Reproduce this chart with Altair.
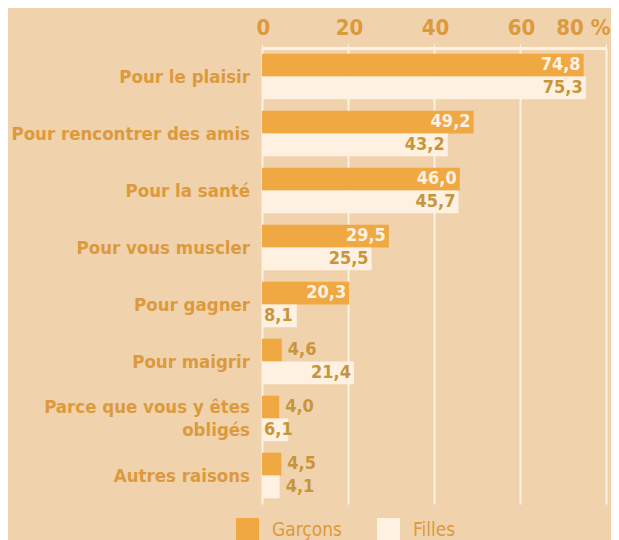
import altair as alt
import pandas as pd

categories = ["Pour le plaisir", "Pour rencontrer des amis", "Pour la santé",
              "Pour vous muscler", "Pour gagner", "Pour maigrir",
              "Parce que vous y êtes obligés", "Autres raisons"]
cat_lines = ["Pour le plaisir", "Pour rencontrer des amis", "Pour la santé",
             "Pour vous muscler", "Pour gagner", "Pour maigrir",
             "Parce que vous y êtes\nobligés", "Autres raisons"]
garcons = [74.8, 49.2, 46.0, 29.5, 20.3, 4.6, 4.0, 4.5]
filles = [75.3, 43.2, 45.7, 25.5, 8.1, 21.4, 6.1, 4.1]
groups = ["Garçons", "Filles"]
ticks = [0, 20, 40, 60, 80]

rows = []
for c, g, f in zip(categories, garcons, filles):
    rows.append({"cat": c, "sexe": "Garçons", "val": g})
    rows.append({"cat": c, "sexe": "Filles", "val": f})
df = pd.DataFrame(rows)
cat_df = pd.DataFrame({"cat": categories, "txt": cat_lines,
                       "multi": ["\n" in t for t in cat_lines]})

BG = "#f0d2ad"
GOLD = "#dc9a3c"
DARK = "#c8963a"
CREAM = "#fef1e2"
ORANGE = "#f0a843"
FONT = "DejaVu Sans Condensed, DejaVu Sans"

ysc = alt.Scale(domain=categories, paddingInner=0.2, paddingOuter=0.1)
yenc = alt.Y("cat:N", scale=ysc, sort=categories, axis=None)
xenc = alt.X("val:Q", scale=alt.Scale(domain=[0, 80], nice=False),
             axis=alt.Axis(title=None, orient="top", values=ticks,
                           labelExpr="datum.value == 80 ? '80 %' : datum.label",
                           labelFlush=False,
                           labelAlign={"condition": {"test": "datum.value == 80", "value": "right"}, "value": "center"},
                           labelOffset={"condition": {"test": "datum.value == 80", "value": 4}, "value": 1},
                           labelFontSize=22, labelFontWeight="bold", labelColor=GOLD,
                           labelFont=FONT, labelPadding=5, ticks=True, tickColor=CREAM,
                           tickSize=4, domainColor=CREAM, domainWidth=3,
                           grid=True, gridColor=CREAM, gridWidth=2))
yoff = alt.YOffset("sexe:N", sort=groups, scale=alt.Scale(domain=groups, paddingInner=0, paddingOuter=0))

base = alt.Chart(df).transform_calculate(
    lab="replace(format(datum.val, '.1f'), '.', ',')"
)

bars = base.mark_bar().encode(
    x=xenc,
    y=yenc,
    yOffset=yoff,
    color=alt.Color("sexe:N", sort=groups,
                    scale=alt.Scale(domain=groups, range=[ORANGE, CREAM]),
                    legend=alt.Legend(title=None, orient="none", direction="horizontal",
                                      legendX=-26, legendY=470, symbolType="square",
                                      symbolSize=529, symbolStrokeWidth=0,
                                      labelFontSize=19, labelColor=GOLD, labelFont=FONT,
                                      labelFontWeight="normal",
                                      labelOffset=13, columnPadding=35)),
)

ycat = alt.Y("cat:N", sort=categories)
VFS = 18

inside_g = base.transform_filter("datum.sexe == 'Garçons' && datum.val >= 10").mark_text(
    align="right", baseline="middle", dx=-3, fontSize=VFS, fontWeight="bold",
    font=FONT, color=CREAM).encode(x="val:Q", y=ycat, yOffset=yoff, text="lab:N")
inside_f = base.transform_filter("datum.sexe == 'Filles' && datum.val >= 10").mark_text(
    align="right", baseline="middle", dx=-3, fontSize=VFS, fontWeight="bold",
    font=FONT, color=DARK).encode(x="val:Q", y=ycat, yOffset=yoff, text="lab:N")
small_f = base.transform_filter("datum.sexe == 'Filles' && datum.val >= 5 && datum.val < 10").mark_text(
    align="left", baseline="middle", dx=2, fontSize=VFS, fontWeight="bold",
    font=FONT, color=DARK).encode(x=alt.datum(0), y=ycat, yOffset=yoff, text="lab:N")
outside = base.transform_filter("(datum.sexe == 'Garçons' && datum.val < 10) || (datum.sexe == 'Filles' && datum.val < 5)").mark_text(
    align="left", baseline="middle", dx=6, fontSize=VFS, fontWeight="bold",
    font=FONT, color=DARK).encode(x="val:Q", y=ycat, yOffset=yoff, text="lab:N")

cat_single = alt.Chart(cat_df).transform_filter("!datum.multi").mark_text(
    align="right", baseline="middle", dx=-12, fontSize=18.5, fontWeight="bold",
    font=FONT, color=GOLD).encode(x=alt.value(0), y=ycat, text="txt:N")
cat_multi = alt.Chart(cat_df).transform_filter("datum.multi").mark_text(
    align="right", baseline="middle", dx=-12, dy=-11.5, fontSize=18.5, fontWeight="bold",
    font=FONT, color=GOLD, lineBreak="\n", lineHeight=23).encode(x=alt.value(0), y=ycat, text="txt:N")

chart = alt.layer(bars, inside_g, inside_f, small_f, outside, cat_single, cat_multi).properties(
    width=344, height=456, background=BG,
    autosize=alt.AutoSizeParams(type="none"),
    padding={"left": 254, "top": 40, "right": 5, "bottom": 36},
).configure_view(stroke=None)

chart.save("out.html", embed_options={"renderer": "svg", "actions": False})
